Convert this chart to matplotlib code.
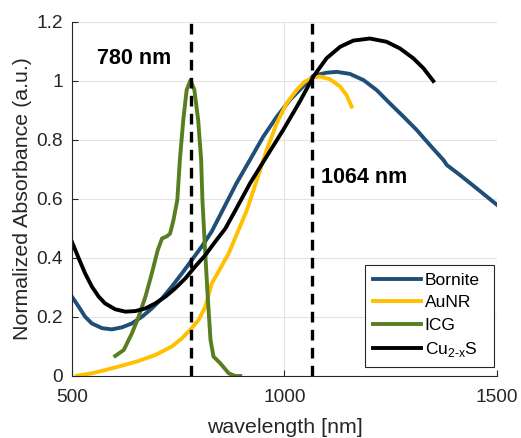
import matplotlib
matplotlib.use('Agg')
import matplotlib.pyplot as plt

plt.rcParams['font.family'] = ['Liberation Sans', 'DejaVu Sans']
plt.rcParams['mathtext.fontset'] = 'custom'
plt.rcParams['mathtext.rm'] = 'Liberation Sans'

# ── spectra (wavelength nm, normalized absorbance) ──
bornite_wl = [500, 516, 531, 547, 571, 594, 618, 641, 665, 688, 712, 735, 759,
              782, 806, 829, 856, 887, 919, 950, 982, 1013, 1036, 1068, 1099,
              1123, 1154, 1186, 1217, 1248, 1280, 1311, 1342, 1374, 1382, 1413,
              1452, 1500]
bornite_abs = [0.269, 0.235, 0.201, 0.178, 0.162, 0.158, 0.165, 0.178, 0.201,
               0.229, 0.263, 0.303, 0.348, 0.393, 0.440, 0.490, 0.566, 0.653,
               0.733, 0.811, 0.879, 0.936, 0.970, 1.018, 1.028, 1.031, 1.024,
               1.003, 0.969, 0.924, 0.879, 0.834, 0.783, 0.732, 0.715, 0.681,
               0.636, 0.580]

aunr_wl = [512, 547, 578, 618, 657, 696, 735, 759, 778, 798, 814, 829, 845, 869,
           892, 911, 935, 958, 982, 1005, 1029, 1048, 1068, 1084, 1107, 1131,
           1146, 1158]
aunr_abs = [0.001, 0.009, 0.020, 0.035, 0.051, 0.071, 0.100, 0.128, 0.156, 0.190,
            0.235, 0.314, 0.354, 0.416, 0.495, 0.560, 0.664, 0.766, 0.857, 0.924,
            0.970, 0.998, 1.012, 1.015, 1.006, 0.981, 0.952, 0.913]

icg_wl = [602, 622, 641, 657, 673, 688, 702, 712, 724, 731, 739, 748, 754, 762,
          770, 779, 788, 797, 804, 807, 812, 819, 826, 833, 849, 869, 884, 896]
icg_abs = [0.068, 0.088, 0.144, 0.201, 0.269, 0.348, 0.427, 0.466, 0.474, 0.483,
           0.529, 0.597, 0.733, 0.868, 0.970, 1.003, 0.970, 0.868, 0.733, 0.597,
           0.461, 0.281, 0.123, 0.066, 0.043, 0.009, 0.0, 0.0]

cuxs_wl = [500, 516, 531, 547, 563, 578, 602, 626, 649, 673, 696, 720, 743, 767,
           790, 814, 837, 861, 884, 919, 958, 997, 1036, 1068, 1099, 1131, 1162,
           1201, 1240, 1272, 1303, 1327, 1350]
cuxs_abs = [0.455, 0.399, 0.348, 0.303, 0.269, 0.246, 0.226, 0.218, 0.220, 0.229,
            0.246, 0.269, 0.297, 0.331, 0.371, 0.410, 0.455, 0.500, 0.560, 0.653,
            0.744, 0.834, 0.930, 1.015, 1.077, 1.116, 1.137, 1.144, 1.133, 1.110,
            1.077, 1.043, 1.000]

laser_lines = [780, 1064]
laser_labels = ['780 nm', '1064 nm']

COLORS = {
  'bornite': '#1F4E79',
  'aunr': '#FFC000',
  'icg': '#587E22',
  'cuxs': '#000000',
}

fig = plt.figure(figsize=(5.21, 4.38), dpi=100)
ax = fig.add_axes([0.138, 0.1416, 0.816, 0.8082])

ax.plot(bornite_wl, bornite_abs, color=COLORS['bornite'], lw=2.8, label='Bornite')
ax.plot(aunr_wl, aunr_abs, color=COLORS['aunr'], lw=2.8, label='AuNR')
ax.plot(icg_wl, icg_abs, color=COLORS['icg'], lw=2.8, label='ICG')
ax.plot(cuxs_wl, cuxs_abs, color=COLORS['cuxs'], lw=2.8,
        label=r'Cu$_{\mathregular{2\text{-}x}}$S')

# 레이저 파장 표시 (점선)
for wl in laser_lines:
  ax.plot([wl, wl], [0, 1.2], color='black', lw=2.4, ls=(0, (3.2, 2.2)), zorder=5)

ax.text(559, 1.058, laser_labels[0], fontsize=15.5, fontweight='bold',
        ha='left', va='baseline')
ax.text(1085, 0.653, laser_labels[1], fontsize=15.5, fontweight='bold',
        ha='left', va='baseline')

ax.set_xlim(500, 1500)
ax.set_ylim(0, 1.2)
ax.set_xticks([500, 1000, 1500])
ax.set_yticks([0, 0.2, 0.4, 0.6, 0.8, 1.0, 1.2])
ax.set_yticklabels(['0', '0.2', '0.4', '0.6', '0.8', '1', '1.2'])
ax.grid(True, color='#E3E3E3', lw=0.8)
ax.set_axisbelow(True)

ax.spines['top'].set_visible(False)
ax.spines['right'].set_visible(False)
for s in ['left', 'bottom']:
  ax.spines[s].set_color('#262626')
  ax.spines[s].set_linewidth(0.8)
ax.tick_params(direction='in', length=4, width=0.8, colors='#262626',
               labelsize=13.8)
ax.tick_params(axis='x', pad=9.5)
ax.tick_params(axis='y', pad=6.5)

ax.set_xlabel('wavelength [nm]', fontsize=15.4, color='#262626', labelpad=8.5)
ax.set_ylabel('Normalized Absorbance (a.u.)', fontsize=15.4, color='#262626',
              labelpad=3)

leg = ax.legend(loc='lower left', bbox_to_anchor=(0.689, 0.0254, 0.304, 0.3),
                mode='expand', borderaxespad=0, fontsize=12.5, fancybox=False,
                edgecolor='#262626', framealpha=1, handlelength=2.8,
                handletextpad=0.2, labelspacing=0.42, borderpad=0.45)
leg.get_frame().set_linewidth(0.8)

fig.savefig('out.png', dpi=100)
